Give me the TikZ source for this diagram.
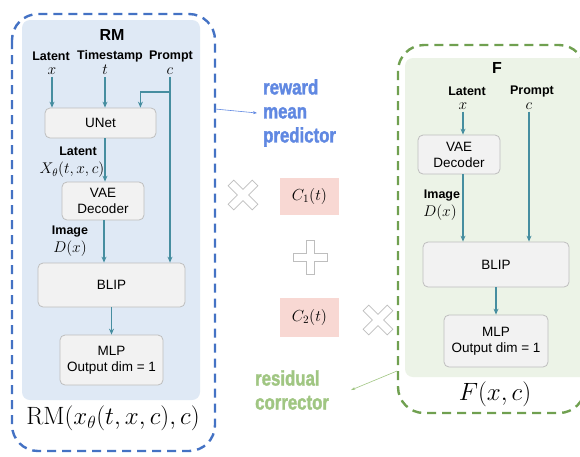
\RequirePackage{fix-cm}
\documentclass[tikz,border=0pt]{standalone}
\usepackage[no-math]{fontspec}
\setmainfont{Liberation Sans}
\newfontfamily\heavyfont[FakeStretch=0.8,BoldFeatures={FakeBold=1.5}]{Liberation Sans}
\usetikzlibrary{arrows.meta}

\definecolor{rmblue}{RGB}{68,114,196}
\definecolor{rmfill}{RGB}{223,233,245}
\definecolor{fgreen}{RGB}{112,160,80}
\definecolor{ffill}{RGB}{236,243,231}
\definecolor{flowc}{RGB}{70,142,160}
\definecolor{boxline}{RGB}{190,190,190}
\definecolor{boxfill}{RGB}{242,242,242}
\definecolor{pinkfill}{RGB}{248,216,211}
\definecolor{markgrey}{RGB}{190,190,190}
\definecolor{notesblue}{RGB}{96,136,226}
\definecolor{notesgreen}{RGB}{160,198,130}

\begin{document}
\begin{tikzpicture}[x=1pt,y=-1pt,
  block/.style={draw=boxline, fill=boxfill, rounded corners=5pt, line width=0.8pt,
    font=\fontsize{13.5}{16}\selectfont, align=center, inner sep=0pt},
  cbox/.style={fill=pinkfill, inner sep=0pt, minimum width=59pt, font=\fontsize{16}{18}\selectfont},
  flow/.style={draw=flowc, line width=1.1pt, -{Stealth[length=6pt,width=5pt]}},
  lbl/.style={font=\bfseries\fontsize{12.5}{14}\selectfont, inner sep=0pt},
  mlbl/.style={font=\fontsize{15.5}{17}\selectfont, inner sep=0pt},
  ttl/.style={font=\bfseries\fontsize{16}{18}\selectfont, inner sep=0pt},
  bigmath/.style={font=\fontsize{25}{28}\selectfont, inner sep=0pt},
  heavy/.style={font=\heavyfont\bfseries\fontsize{21}{24}\selectfont, align=left, inner sep=0pt, anchor=west},
  outer/.style={dash pattern=on 9pt off 6pt, line width=2.4pt, rounded corners=26pt},
  markline/.style={draw=markgrey, fill=white, line width=0.7pt, line join=miter},
  plusmark/.pic={\path[markline] (4,17)--(4,4)--(17,4)--(17,-4)--(4,-4)--(4,-17)--(-4,-17)
     --(-4,-4)--(-17,-4)--(-17,4)--(-4,4)--(-4,17)--cycle;}
]
\useasboundingbox (0,0) rectangle (580,456);
\fill[white] (0,0) rectangle (580,456);

% ---------- RM : reward mean predictor ----------
\draw[outer, draw=rmblue] (12,14) rectangle (215,451);
\fill[rmfill, rounded corners=8pt] (22,20) rectangle (200,400);
\node[ttl] (rmtitle) at (112,35) {RM};

\node[lbl] (rlat) at (51,56) {Latent};
\node[lbl] (rts) at (110,56) {Timestamp};
\node[lbl] (rpr) at (171,56) {Prompt};
\node[mlbl] (rx) at (52,71) {$x$};
\node[mlbl] (rt) at (105,70) {$t$};
\node[mlbl] (rc) at (170,71) {$c$};

\node[block, minimum width=111pt, minimum height=30pt] (unet) at (100.5,123) {UNet};
\node[block, minimum width=82pt, minimum height=38pt] (rvae) at (103,201) {VAE\\Decoder};
\node[block, minimum width=147pt, minimum height=44pt] (rblip) at (111.5,285) {BLIP};
\node[block, minimum width=103pt, minimum height=50pt] (rmlp) at (111.5,360) {MLP\\Output dim = 1};

\node[lbl] (rlat2) at (78,151) {Latent};
\node[mlbl] (rxth) at (72,170) {$X_\theta(t,x,c)$};
\node[lbl] (rimg) at (70,232) {Image};
\node[mlbl] (rdx) at (70,249) {$D(x)$};

\draw[flow, shorten <=2pt] (rx.south) -- (rx.south |- unet.north);
\draw[flow, shorten <=2pt] (rt.south) -- (rt.south |- unet.north);
\draw[flow, shorten <=2pt] (rc.south) -- (rc.south |- rblip.north);
\coordinate (rcbranch) at (170,92);
\draw[flow] (rcbranch) -| ([xshift=-16pt]unet.north east);
\draw[flow] ([xshift=4.5pt]unet.south) -- ([xshift=4.5pt]unet.south |- rvae.north);
\draw[flow] ([xshift=1pt]rvae.south) -- ([xshift=1pt]rvae.south |- rblip.north);
\draw[flow] (rblip.south) -- (rmlp.north);

\node[bigmath] (rmformula) at (113,418) {$\mathrm{RM}(x_\theta(t,x,c),c)$};

% ---------- combination ----------
\node[heavy, text=notesblue] (rmnote) at (263,113) {reward\\mean\\predictor};
\coordinate (rmout) at (215,109);
\draw[notesblue, line width=0.6pt, -{Stealth[length=4pt,width=3pt]}] (rmout) -- ([xshift=-6pt]rmnote.west);

\pic[rotate=45] at (243,195) {plusmark};
\node[cbox, minimum height=37pt] (c1) at (309.5,196.5) {$C_1(t)$};
\pic at (310,257) {plusmark};
\node[cbox, minimum height=39pt] (c2) at (309.5,317.5) {$C_2(t)$};
\pic[rotate=45] at (378,320) {plusmark};

% ---------- F : residual corrector ----------
\draw[outer, draw=fgreen] (398,45) rectangle (585,413);
\fill[ffill, rounded corners=8pt] (405,58) rectangle (595,377);
\node[ttl] (ftitle) at (497,68) {F};

\node[lbl] (flat) at (467,91) {Latent};
\node[lbl] (fpr) at (532,91) {Prompt};
\node[mlbl] (fx) at (463,106) {$x$};
\node[mlbl] (fc) at (529,106) {$c$};

\node[block, minimum width=82pt, minimum height=39pt] (fvae) at (459,154.5) {VAE\\Decoder};
\node[block, minimum width=146pt, minimum height=45pt] (fblip) at (496,264.5) {BLIP};
\node[block, minimum width=104pt, minimum height=52pt] (fmlp) at (496,341) {MLP\\Output dim = 1};

\node[lbl] (fimg) at (442,196) {Image};
\node[mlbl] (fdx) at (440,213) {$D(x)$};

\draw[flow, shorten <=2pt] (fx.south) -- (fx.south |- fvae.north);
\draw[flow, shorten <=2pt] (fc.south) -- (fc.south |- fblip.north);
\draw[flow] ([xshift=4pt]fvae.south) -- ([xshift=4pt]fvae.south |- fblip.north);
\draw[flow] (fblip.south) -- (fmlp.north);

\node[bigmath] (fformula) at (495,394) {$F(x,c)$};

\node[heavy, text=notesgreen] (rcnote) at (255,390) {residual\\corrector};
\coordinate (fout) at (397,371);
\draw[notesgreen, line width=0.6pt, -{Stealth[length=4pt,width=3pt]}] (fout) -- ([xshift=22pt]rcnote.east);
\end{tikzpicture}
\end{document}
